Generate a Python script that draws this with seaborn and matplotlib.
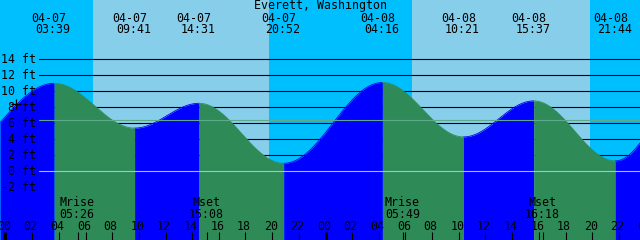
import numpy as np
import pandas as pd
import matplotlib
matplotlib.use("Agg")
import matplotlib.pyplot as plt
import matplotlib.transforms as mtransforms
import seaborn as sns

# ---------------- data ----------------
title = "Everett, Washington"
# tide extremes, hours after 04-07 00:00 (first/last are just outside the window)
tide_hours = [-4.4, 3.65, 9.683, 14.517, 20.867, 28.267, 34.35, 39.617, 45.733, 51.6]
tide_heights = [1.3, 11.0, 5.4, 8.5, 1.0, 11.1, 4.3, 8.8, 1.3, 11.2]
tide_dates = [None, "04-07", "04-07", "04-07", "04-07", "04-08", "04-08", "04-08", "04-08", None]
tide_clock = [None, "03:39", "09:41", "14:31", "20:52", "04:16", "10:21", "15:37", "21:44", None]

sunrise_hours = [6.53, 30.48]
sunset_hours = [19.77, 43.83]

moon_hours = [5.433, 15.133, 29.817, 40.3]
moon_kind = ["Mrise", "Mset", "Mrise", "Mset"]
moon_clock = ["05:26", "15:08", "05:49", "16:18"]

level_ticks = [14, 12, 10, 8, 6, 4, 2, 0, -2]
mean_level = 6.4
hour_ticks = list(range(0, 49, 2))
marker_hour = [0.79]
marker_height = [8.4]

# ---------------- style ----------------
SKY_DAY = "#87CEEB"
SKY_NIGHT = "#00BFFF"
FLOOD = "#0000FF"
EBB = "#2E8B57"
MEAN_COL = "#5ea98b"
ZERO_COL = "#87CEEB"

W, H, DPI = 640, 240, 100
PX_PER_HOUR = 320 / 24.0
X0 = 5.5            # pixel of 04-07 00:00
Y0 = 171.3          # pixel of 0 ft
PX_PER_FT = 8.0

sns.set_style("white")
plt.rcParams["font.family"] = ["DejaVu Sans Mono", "DejaVu Sans"]
FS = 8.4

fig = plt.figure(figsize=(W / DPI, H / DPI), dpi=DPI)
ax = fig.add_axes([0, 0, 1, 1])
xmin = (0 - X0) / PX_PER_HOUR
xmax = (W - X0) / PX_PER_HOUR
ymax = Y0 / PX_PER_FT
ymin = (Y0 - H) / PX_PER_FT
ax.set_xlim(xmin, xmax)
ax.set_ylim(ymin, ymax)
ax.axis("off")

def yfrac(px):
    return 1 - px / H

blend = mtransforms.blended_transform_factory(ax.transData, ax.transAxes)

def shifted(dx_px):
    return blend + mtransforms.ScaledTranslation(dx_px / DPI, 0, fig.dpi_scale_trans)

# ---------------- sky ----------------
edges = [xmin] + sorted(sunrise_hours + sunset_hours) + [xmax]
for i in range(len(edges) - 1):
    ax.axvspan(edges[i], edges[i + 1], color=SKY_NIGHT if i % 2 == 0 else SKY_DAY,
               lw=0, zorder=0)

# reference lines (behind the water)
line_start = 39 / W
for lv in level_ticks:
    if lv > 0:
        ax.axhline(lv, xmin=line_start, xmax=1, color="black", lw=0.8, zorder=1)

# ---------------- water ----------------
rows = []
for i in range(len(tide_hours) - 1):
    t0, t1 = tide_hours[i], tide_hours[i + 1]
    h0, h1 = tide_heights[i], tide_heights[i + 1]
    a, b = max(t0, xmin), min(t1, xmax)
    if a >= b:
        continue
    tt = np.linspace(a, b, 300)
    f = (tt - t0) / (t1 - t0)
    hh = h0 + (h1 - h0) * (1 - np.cos(np.pi * f)) / 2
    phase = "flood" if h1 > h0 else "ebb"
    for t, h in zip(tt, hh):
        rows.append({"hour": t, "height": h, "segment": i, "phase": phase})
df = pd.DataFrame(rows)

palette = {"flood": FLOOD, "ebb": EBB}
for seg, g in df.groupby("segment"):
    ax.fill_between(g["hour"], ymin, g["height"], color=palette[g["phase"].iloc[0]],
                    lw=0, zorder=2)
sns.lineplot(data=df, x="hour", y="height", hue="phase", units="segment",
             estimator=None, palette=palette, lw=0.6, legend=False, sort=False,
             ax=ax, zorder=2.5)
ax.set_xlim(xmin, xmax)
ax.set_ylim(ymin, ymax)
ax.axis("off")

# light lines over everything
ax.axhline(0, xmin=line_start, xmax=1, color=ZERO_COL, lw=0.8, zorder=3)
ax.axhline(mean_level, xmin=line_start, xmax=1, color=MEAN_COL, lw=0.8, zorder=3)

# ---------------- text ----------------
for lv in level_ticks:
    ax.text(36, Y0 - lv * PX_PER_FT + 3.5, f"{lv} ft", transform=mtransforms.IdentityTransform() + mtransforms.Affine2D().scale(1, -1).translate(0, H),
            ha="right", va="baseline", fontsize=FS, color="black", zorder=4)

ax.text(0.5, yfrac(9.5), title, transform=ax.transAxes, ha="center", va="baseline",
        fontsize=FS, color="black", zorder=4)

for t, d, c in zip(tide_hours, tide_dates, tide_clock):
    if d is None:
        continue
    ax.text(t, yfrac(22), d, transform=shifted(-5), ha="center", va="baseline",
            fontsize=FS, color="black", zorder=4)
    ax.text(t, yfrac(33), c, transform=shifted(-1), ha="center", va="baseline",
            fontsize=FS, color="black", zorder=4)

for t, k, c in zip(moon_hours, moon_kind, moon_clock):
    ax.text(t, yfrac(206), k, transform=shifted(-0.8), ha="center", va="baseline",
            fontsize=FS, color="black", zorder=4)
    ax.text(t, yfrac(217.7), c, transform=shifted(-0.8), ha="center", va="baseline",
            fontsize=FS, color="black", zorder=4)

for hr in hour_ticks:
    ax.text(hr, yfrac(229.5), f"{hr % 24:02d}", transform=shifted(-1.5), ha="center",
            va="baseline", fontsize=FS, color="black", zorder=4)
    is_mid = hr % 24 == 0
    ax.vlines(hr, 0, 8.3 / H, transform=blend, color="black",
              lw=2.2 if is_mid else 0.8, zorder=4)
ax.vlines(moon_hours, 0, 8.3 / H, transform=blend, color="black", lw=0.8, zorder=4)

ax.plot(marker_hour, marker_height, marker="+", ms=7.5, mew=0.9, color="black",
        ls="none", zorder=5)

fig.savefig("out.png", dpi=DPI)
